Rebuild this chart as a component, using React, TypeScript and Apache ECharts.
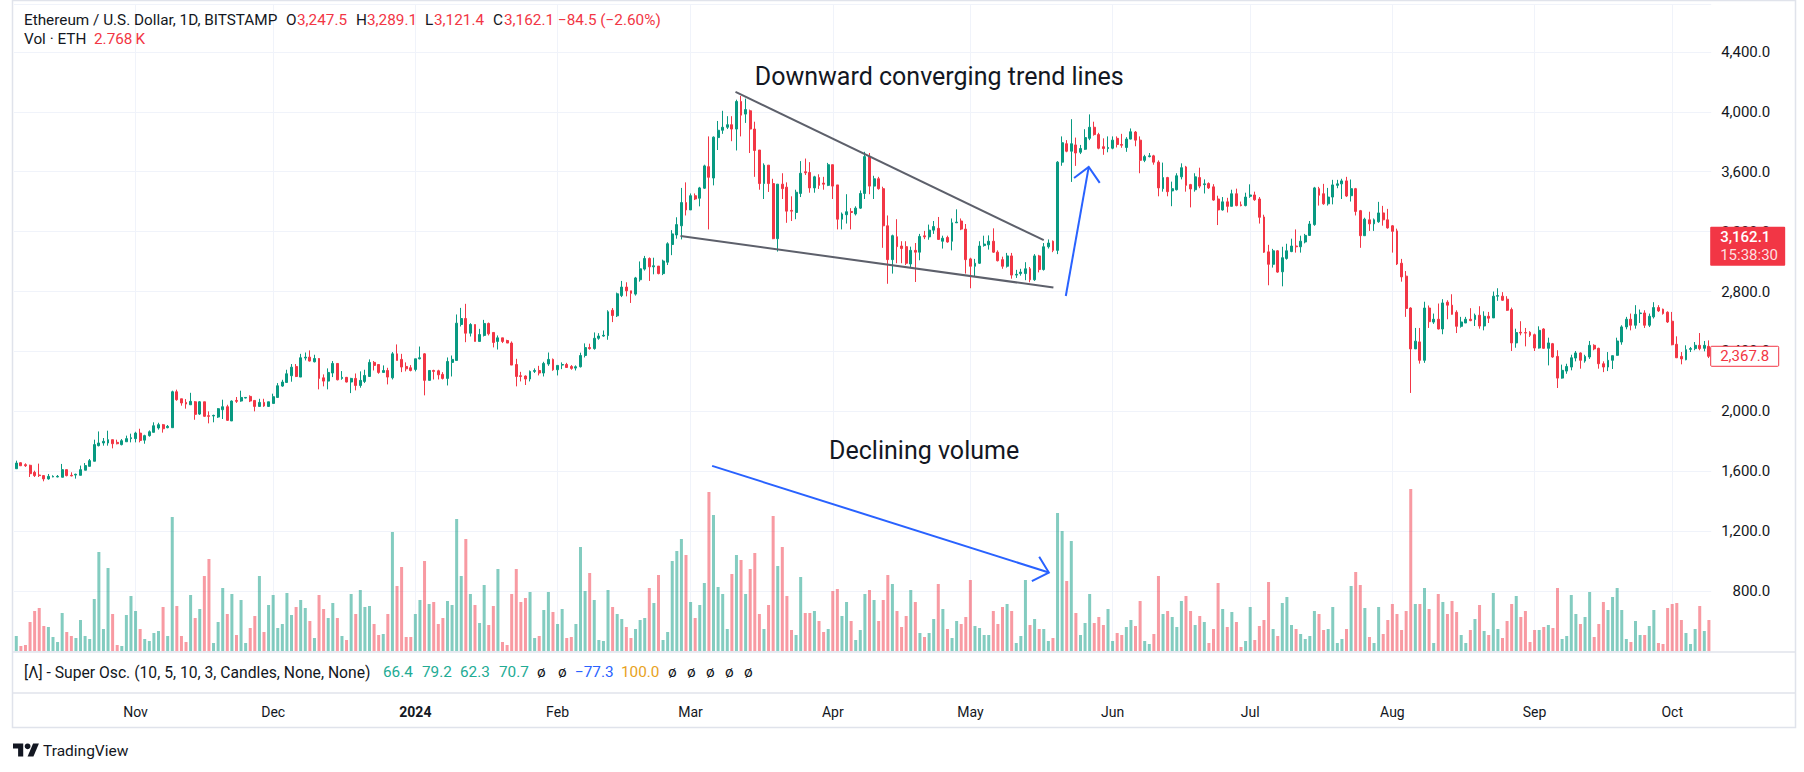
import React, { useEffect, useRef } from "react";
import * as echarts from "echarts";

// ---------- DATA (daily ETH/USD, BITSTAMP, 2023-10-06 .. 2024-10-09) ----------
const FIRST_DAY = "2023-10-06";

const opens = [
  1617,1657,1644,1640,1593,1575,1571,1549,1562,1562,
  1560,1611,1573,1575,1573,1607,1633,1667,1771,1789,
  1789,1811,1793,1778,1797,1818,1818,1855,1808,1838,
  1860,1889,1911,1891,1891,2131,2084,2060,2044,2064,
  1982,2064,1971,1969,1962,2011,2031,1936,2073,2069,
  2089,2100,2073,2033,2060,2033,2053,2093,2169,2193,
  2238,2300,2229,2356,2362,2331,2353,2224,2202,2256,
  2320,2220,2227,2196,2220,2173,2200,2233,2327,2313,
  2260,2273,2224,2384,2347,2300,2291,2280,2351,2384,
  2207,2273,2271,2247,2220,2327,2340,2580,2620,2522,
  2580,2467,2507,2587,2527,2467,2491,2473,2456,2313,
  2238,2236,2216,2267,2273,2256,2316,2347,2278,2309,
  2313,2300,2289,2298,2373,2426,2419,2488,2503,2506,
  2675,2638,2773,2830,2805,2783,2879,2950,3021,2965,
  2970,2920,2996,3114,3178,3239,3394,3345,3440,3423,
  3490,3634,3558,3828,3877,3897,3914,3885,4069,3985,
  4007,3885,3745,3521,3644,3521,3153,3517,3497,3342,
  3328,3455,3600,3595,3492,3561,3524,3509,3647,3512,
  3283,3313,3335,3318,3357,3455,3701,3504,3553,3487,
  3239,3013,3166,3104,3100,2984,3075,3063,3172,3165,
  3210,3222,3136,3161,3136,3259,3271,3217,3018,2969,
  2989,3107,3112,3136,3063,3013,2969,3038,2910,2920,
  2920,2952,2879,3038,2947,3099,3136,3075,3664,3787,
  3737,3779,3730,3750,3823,3897,3848,3767,3755,3757,
  3823,3782,3762,3818,3865,3811,3676,3701,3706,3664,
  3487,3561,3472,3480,3566,3632,3514,3480,3561,3514,
  3521,3499,3418,3345,3399,3369,3453,3379,3374,3436,
  3445,3418,3298,3065,2982,3072,2932,3021,3067,3104,
  3099,3131,3175,3247,3487,3453,3386,3431,3509,3519,
  3539,3440,3487,3340,3173,3279,3252,3266,3325,3279,
  3239,3205,2989,2903,2690,2417,2464,2341,2690,2596,
  2615,2550,2729,2709,2662,2568,2590,2615,2613,2642,
  2570,2635,2624,2769,2769,2749,2680,2457,2528,2526,
  2528,2512,2423,2550,2421,2452,2367,2222,2269,2296,
  2356,2390,2336,2363,2441,2421,2318,2296,2341,2374,
  2463,2564,2615,2575,2653,2657,2575,2631,2693,2682,
  2662,2602,2448,2367,2345,2414,2419,2441,2421,2434,
];

const highs = [
  1671,1660,1653,1644,1604,1651,1575,1582,1573,1575,
  1649,1611,1593,1584,1638,1655,1682,1811,1866,1822,
  1871,1811,1811,1815,1838,1851,1864,1884,1844,1873,
  1927,1924,1916,1909,2138,2145,2084,2082,2124,2069,
  2069,2064,2000,1978,2022,2078,2044,2073,2096,2138,
  2096,2107,2073,2084,2084,2064,2118,2189,2211,2278,
  2316,2316,2384,2393,2407,2378,2356,2247,2287,2336,
  2320,2269,2230,2224,2253,2267,2278,2347,2336,2313,
  2307,2291,2396,2447,2384,2327,2309,2351,2433,2389,
  2273,2278,2278,2262,2360,2373,2647,2691,2718,2589,
  2580,2551,2611,2593,2527,2507,2491,2478,2467,2351,
  2264,2240,2273,2287,2304,2331,2393,2353,2307,2327,
  2324,2309,2307,2392,2454,2452,2527,2522,2540,2675,
  2690,2793,2871,2862,2805,2898,3001,3038,3028,3026,
  2970,3013,3129,3210,3296,3492,3529,3455,3455,3499,
  3647,3836,3836,3939,4007,3971,3971,4081,4106,4088,
  4015,3934,3745,3656,3644,3553,3517,3590,3529,3436,
  3480,3671,3688,3664,3573,3583,3566,3659,3647,3512,
  3328,3450,3357,3369,3475,3733,3725,3573,3566,3500,
  3308,3180,3283,3136,3136,3100,3124,3185,3205,3247,
  3271,3298,3173,3173,3288,3349,3288,3251,3026,3018,
  3136,3173,3175,3222,3075,3033,3058,3058,2945,2952,
  2996,2964,3050,3045,3124,3148,3141,3671,3836,3811,
  3951,3828,3779,3884,3983,3934,3860,3823,3836,3836,
  3836,3853,3831,3889,3872,3836,3713,3725,3713,3676,
  3661,3566,3534,3590,3656,3639,3519,3590,3627,3549,
  3529,3517,3440,3431,3426,3480,3487,3401,3460,3516,
  3467,3431,3313,3112,3085,3077,3099,3119,3153,3215,
  3173,3185,3271,3499,3499,3519,3492,3546,3546,3553,
  3566,3548,3492,3345,3293,3333,3288,3399,3372,3352,
  3244,3220,3018,2937,2695,2557,2557,2732,2707,2653,
  2720,2749,2742,2782,2675,2631,2631,2689,2653,2702,
  2668,2664,2800,2822,2796,2769,2693,2552,2602,2557,
  2535,2519,2568,2555,2492,2457,2408,2312,2318,2378,
  2403,2394,2378,2470,2448,2425,2334,2396,2372,2492,
  2575,2631,2653,2709,2680,2675,2653,2729,2709,2686,
  2668,2664,2501,2396,2441,2430,2463,2523,2470,2474,
];

const lows = [
  1617,1635,1629,1562,1562,1562,1533,1544,1560,1560,
  1560,1566,1566,1551,1573,1607,1633,1667,1766,1771,
  1771,1753,1780,1773,1797,1793,1793,1793,1784,1831,
  1860,1878,1858,1887,1891,2071,2038,2018,2044,1944,
  1976,1964,1920,1927,1956,1949,1936,1936,2056,2064,
  2087,2062,2000,2033,2030,2030,2053,2093,2164,2193,
  2198,2229,2229,2340,2333,2327,2147,2167,2147,2229,
  2207,2211,2193,2122,2140,2158,2189,2233,2273,2251,
  2260,2180,2213,2340,2262,2267,2267,2267,2347,2107,
  2207,2213,2213,2213,2173,2233,2340,2567,2462,2500,
  2467,2467,2500,2507,2427,2413,2456,2456,2309,2167,
  2200,2176,2200,2256,2240,2233,2304,2271,2240,2282,
  2293,2278,2273,2293,2360,2412,2412,2478,2498,2478,
  2596,2630,2763,2768,2724,2773,2866,2940,2871,2915,
  2915,2910,2977,3043,3153,3148,3308,3345,3411,3369,
  3485,3215,3509,3745,3853,3885,3804,3742,3836,3926,
  3725,3566,3480,3418,3465,3150,3067,3418,3259,3271,
  3283,3431,3578,3460,3460,3485,3480,3504,3418,3215,
  3215,3254,3215,3308,3352,3418,3450,3418,3480,3092,
  2852,2920,2989,2989,2977,2964,2864,3009,3150,3146,
  3185,3146,3087,3126,3075,3259,3210,2920,2822,2898,
  2984,3100,3080,3058,3001,2952,2960,2886,2891,2906,
  2876,2862,2871,2928,2940,3087,3063,3050,3640,3730,
  3532,3639,3718,3745,3811,3841,3750,3713,3730,3750,
  3762,3760,3733,3816,3770,3590,3664,3696,3647,3436,
  3467,3436,3370,3475,3549,3467,3362,3467,3490,3455,
  3485,3406,3244,3340,3328,3369,3369,3369,3369,3426,
  3406,3254,3058,2842,2960,2925,2835,3013,3063,3060,
  3060,3122,3171,3239,3374,3379,3374,3382,3490,3418,
  3431,3401,3308,3092,3173,3205,3205,3259,3240,3220,
  3060,2977,2866,2631,2123,2417,2319,2324,2557,2584,
  2547,2515,2615,2646,2523,2559,2590,2602,2570,2552,
  2541,2590,2624,2738,2738,2671,2403,2425,2508,2434,
  2497,2403,2419,2417,2307,2358,2156,2218,2251,2274,
  2334,2285,2325,2350,2408,2285,2262,2269,2283,2372,
  2445,2548,2541,2552,2590,2557,2563,2620,2664,2646,
  2590,2441,2356,2314,2341,2396,2408,2408,2401,2356,
];

const closes = [
  1655,1637,1637,1584,1571,1571,1549,1566,1566,1566,
  1611,1571,1569,1580,1611,1638,1671,1778,1789,1800,
  1811,1784,1784,1804,1818,1824,1855,1806,1838,1864,
  1904,1911,1884,1900,2131,2078,2056,2049,2067,1980,
  2064,1967,1967,1973,2018,2031,1940,2069,2067,2093,
  2093,2069,2033,2060,2036,2064,2098,2171,2196,2251,
  2295,2233,2358,2362,2336,2353,2220,2202,2260,2320,
  2211,2227,2196,2220,2173,2207,2240,2327,2307,2260,
  2273,2229,2384,2340,2296,2284,2273,2351,2358,2207,
  2273,2267,2244,2220,2333,2347,2589,2620,2522,2580,
  2467,2513,2587,2518,2460,2491,2467,2456,2309,2233,
  2233,2216,2267,2273,2256,2320,2347,2278,2307,2313,
  2293,2287,2298,2373,2426,2419,2488,2503,2508,2665,
  2640,2785,2830,2805,2788,2891,2952,3021,2965,2972,
  2920,3004,3119,3185,3247,3394,3345,3440,3418,3492,
  3639,3563,3831,3877,3897,3914,3885,4069,3978,4015,
  3885,3742,3521,3644,3521,3153,3517,3487,3337,3337,
  3463,3590,3593,3492,3566,3509,3517,3647,3504,3283,
  3318,3333,3328,3357,3455,3701,3504,3553,3487,3239,
  3013,3173,3100,3087,2989,3075,3063,3168,3165,3210,
  3234,3148,3156,3131,3259,3264,3217,3013,2969,2989,
  3104,3117,3136,3063,3006,2969,3038,2910,2915,2930,
  2952,2879,3038,2947,3099,3124,3075,3664,3794,3737,
  3787,3725,3755,3828,3897,3848,3757,3755,3762,3811,
  3782,3777,3818,3867,3811,3676,3701,3706,3664,3492,
  3561,3467,3487,3573,3627,3509,3485,3566,3504,3519,
  3492,3411,3345,3399,3369,3453,3374,3374,3431,3445,
  3413,3296,3063,2982,3072,2930,3026,3072,3104,3099,
  3136,3175,3251,3492,3443,3386,3431,3512,3519,3539,
  3438,3487,3335,3173,3283,3252,3279,3325,3279,3225,
  3202,2984,2898,2687,2417,2469,2341,2690,2599,2615,
  2550,2724,2709,2648,2568,2597,2615,2606,2642,2570,
  2635,2622,2769,2773,2742,2675,2457,2526,2523,2523,
  2508,2423,2541,2421,2457,2363,2222,2274,2300,2358,
  2390,2341,2367,2441,2417,2318,2296,2341,2372,2470,
  2564,2615,2575,2648,2657,2575,2635,2693,2671,2653,
  2597,2445,2358,2350,2412,2419,2441,2419,2441,2367.8,
];

// volume (hundreds of ETH)
const volumes = [
  15,5,6,29,40,43,25,24,14,9,
  38,19,15,13,31,15,12,52,99,22,
  83,37,6,5,36,55,40,22,12,10,
  18,20,44,15,134,45,15,9,56,33,
  42,75,92,8,29,63,37,57,16,51,
  8,23,35,75,19,46,56,23,27,58,
  36,44,51,43,30,13,56,42,33,48,
  33,15,11,57,37,61,44,45,27,16,
  17,37,119,65,84,14,14,37,51,90,
  47,49,27,33,50,46,132,75,112,57,
  46,28,66,26,45,82,9,6,57,82,
  49,53,59,13,15,41,59,39,27,42,
  13,14,27,104,60,78,51,11,10,61,
  44,37,32,24,13,22,31,33,63,48,
  76,11,19,90,100,112,96,49,33,46,
  68,159,136,64,57,22,77,96,91,57,
  82,98,37,22,46,135,85,104,55,21,
  16,74,38,38,40,30,19,22,60,62,
  35,49,30,11,21,57,61,51,30,51,
  76,67,40,24,35,61,49,18,14,18,
  32,67,42,22,13,30,27,34,71,25,
  23,16,16,40,27,44,47,40,8,15,
  71,26,32,22,22,10,13,138,120,70,
  110,38,16,28,57,28,34,26,42,10,
  18,16,24,31,25,50,10,7,17,75,
  37,40,34,24,50,55,40,26,35,29,
  8,22,68,42,24,39,29,4,10,44,
  11,25,31,69,22,15,48,54,26,22,
  17,12,15,40,37,21,22,44,8,12,
  22,65,79,66,43,14,8,44,17,31,
  47,37,21,40,162,47,47,63,42,8,
  57,49,37,50,39,16,8,21,32,46,
  20,16,58,22,13,30,47,55,34,40,
  9,21,21,24,26,23,63,12,15,56,
  37,27,34,59,14,27,49,41,54,63,
  41,12,9,30,16,16,25,41,8,7,
  43,47,48,31,18,7,22,45,20,31,
];

const priceTicks = [800, 1200, 1600, 2000, 2400, 2800, 3200, 3600, 4000, 4400];
const monthNames = ["Jan", "Feb", "Mar", "Apr", "May", "Jun", "Jul", "Aug", "Sep", "Oct", "Nov", "Dec"];

// drawings anchored on (bar index, price)
const trendLines = [
  [[156.8, 4133], [224.0, 3143]],
  [[144.8, 3171], [226.1, 2827]],
];
const arrows = [
  { tail: [228.8, 2770], tip: [233.8, 3632], armA: [230.6, 3558], armB: [236.2, 3526] },
  { tail: [151.7, 1636], tip: [225.1, 924], armA: [223.0, 1030], armB: [221.4, 867] },
];
const notes = [
  { text: "Downward converging trend lines", at: [161.0, 4234] },
  { text: "Declining volume", at: [177.2, 1736] },
];

const headerLine1 = [
  { t: "Ethereum / U.S. Dollar, 1D, BITSTAMP", x: 24, c: "ink" },
  { t: "O", x: 286, c: "ink" }, { t: "3,247.5", x: 297, c: "red" },
  { t: "H", x: 356, c: "ink" }, { t: "3,289.1", x: 367, c: "red" },
  { t: "L", x: 425, c: "ink" }, { t: "3,121.4", x: 434, c: "red" },
  { t: "C", x: 493, c: "ink" }, { t: "3,162.1", x: 504, c: "red" },
  { t: "\u221284.5 (\u22122.60%)", x: 558, c: "red" },
];
const headerLine2 = [
  { t: "Vol \u00b7 ETH", x: 24, c: "ink" },
  { t: "2.768\u2009K", x: 94, c: "red" },
];
const oscLine = [
  { t: "[\u039b] - Super Osc. (10, 5, 10, 3, Candles, None, None)", x: 24, c: "ink" },
  { t: "66.4", x: 383, c: "teal" }, { t: "79.2", x: 422, c: "teal" },
  { t: "62.3", x: 460, c: "teal" }, { t: "70.7", x: 499, c: "teal" },
  { t: "\u00f8", x: 537, c: "ink" }, { t: "\u00f8", x: 558, c: "ink" },
  { t: "\u221277.3", x: 575, c: "blue" }, { t: "100.0", x: 621, c: "gold" },
  { t: "\u00f8", x: 668, c: "ink" }, { t: "\u00f8", x: 687, c: "ink" },
  { t: "\u00f8", x: 706, c: "ink" }, { t: "\u00f8", x: 725, c: "ink" },
  { t: "\u00f8", x: 744, c: "ink" },
];
const lastPrice = 2367.8;
const legendClose = 3162.1;

// ---------- STYLE ----------
const FONT = "Roboto, 'Noto Sans', sans-serif";
const INK = "#131722";
const UP = "#089981";
const DN = "#f23645";
const VOL_UP = "rgba(8,153,129,0.5)";
const VOL_DN = "rgba(242,54,69,0.5)";
const GRID_C = "#f0f3fa";
const BORDER = "#e0e3eb";
const PALETTE: Record<string, string> = { ink: INK, red: DN, teal: "#22ab94", blue: "#2962ff", gold: "#e8a21c" };

const GRID_LEFT = 14;
const BAR_STEP = 4.587;
const PRICE_TOP = 4;
const PRICE_H = 647;
const PRICE_MIN = 400;
const PRICE_MAX = 4720;

const dates: string[] = (() => {
  const t0 = Date.parse(FIRST_DAY + "T00:00:00Z");
  return closes.map((_, i) => new Date(t0 + i * 86400000).toISOString().slice(0, 10));
})();
const isMonthStart = dates.map((d) => d.slice(8, 10) === "01");

const fmtPrice = (v: number) =>
  v.toLocaleString("en-US", { minimumFractionDigits: 1, maximumFractionDigits: 1 });

function buildOption() {
  const gridW = BAR_STEP * closes.length;
  return {
    animation: false,
    backgroundColor: "#ffffff",
    textStyle: { fontFamily: FONT },
    grid: [
      { left: GRID_LEFT, top: PRICE_TOP, width: gridW, height: PRICE_H },
      { left: GRID_LEFT, top: 401, width: gridW, height: 250 },
    ],
    xAxis: [
      {
        type: "category",
        gridIndex: 0,
        data: dates,
        boundaryGap: true,
        axisLine: { show: false },
        axisTick: { show: false },
        axisLabel: {
          interval: (i: number) => isMonthStart[i],
          margin: 54,
          color: INK,
          fontSize: 14,
          fontFamily: FONT,
          formatter: (v: string) => {
            const m = parseInt(v.slice(5, 7), 10) - 1;
            return m === 0 ? "{y|" + v.slice(0, 4) + "}" : monthNames[m];
          },
          rich: { y: { fontWeight: "bold", fontSize: 14, color: INK, fontFamily: FONT } },
        },
        splitLine: {
          show: true,
          interval: (i: number) => isMonthStart[i],
          alignWithLabel: true,
          lineStyle: { color: GRID_C, width: 1 },
        },
      },
      { type: "category", gridIndex: 1, data: dates, show: false, boundaryGap: true },
    ],
    yAxis: [
      {
        type: "value",
        gridIndex: 0,
        position: "right",
        min: PRICE_MIN,
        max: PRICE_MAX,
        interval: 400,
        axisLine: { show: false },
        axisTick: { show: false },
        axisLabel: {
          margin: 59,
          align: "right",
          color: INK,
          fontSize: 15,
          fontFamily: FONT,
          formatter: (v: number) => (priceTicks.indexOf(v) >= 0 ? fmtPrice(v) : ""),
        },
        splitLine: { show: true, lineStyle: { color: GRID_C, width: 1 } },
      },
      { type: "value", gridIndex: 1, min: 0, max: 250, show: false, splitLine: { show: false } },
    ],
    series: [
      {
        type: "bar",
        xAxisIndex: 1,
        yAxisIndex: 1,
        barWidth: 3,
        silent: true,
        data: volumes.map((v, i) => ({
          value: v,
          itemStyle: { color: closes[i] >= opens[i] ? VOL_UP : VOL_DN },
        })),
      },
      {
        type: "candlestick",
        xAxisIndex: 0,
        yAxisIndex: 0,
        barWidth: 2.4,
        silent: true,
        data: opens.map((o, i) => [o, closes[i], lows[i], highs[i]]),
        itemStyle: { color: UP, color0: DN, borderColor: UP, borderColor0: DN, borderWidth: 1 },
      },
    ],
  };
}

function buildGraphics(chart: any) {
  const toPx = (idx: number, price: number): [number, number] => {
    const i0 = Math.floor(idx);
    const f = idx - i0;
    const a = chart.convertToPixel({ gridIndex: 0 }, [i0, price]) as number[];
    const b = chart.convertToPixel({ gridIndex: 0 }, [i0 + 1, price]) as number[];
    return [a[0] + (b[0] - a[0]) * f, a[1]];
  };
  const plotRight = GRID_LEFT + BAR_STEP * closes.length;
  const g: any[] = [];
  const txt = (t: string, x: number, y: number, color: string, size: number, extra: any = {}) => ({
    type: "text",
    x,
    y,
    silent: true,
    z: 120,
    style: { text: t, fill: color, fontSize: size, fontFamily: FONT, verticalAlign: "middle", ...extra },
  });

  // frame & pane separators
  g.push({ type: "rect", silent: true, z: 110, shape: { x: 12.5, y: 0.5, width: 1783, height: 727 }, style: { fill: "none", stroke: BORDER, lineWidth: 1.5 } });
  g.push({ type: "line", silent: true, z: 110, shape: { x1: 12, y1: 652, x2: 1796, y2: 652 }, style: { stroke: BORDER, lineWidth: 1.5 } });
  g.push({ type: "line", silent: true, z: 110, shape: { x1: 12, y1: 693, x2: 1796, y2: 693 }, style: { stroke: BORDER, lineWidth: 1.5 } });

  // legend rows
  headerLine1.forEach((p) => g.push(txt(p.t, p.x, 20, PALETTE[p.c], 15.3)));
  headerLine2.forEach((p) => g.push(txt(p.t, p.x, 39, PALETTE[p.c], 15.3)));
  oscLine.forEach((p) => g.push(txt(p.t, p.x, 672, PALETTE[p.c], p.x === 24 ? 15.7 : 15.3)));

  // trend lines
  trendLines.forEach(([a, b]) => {
    const p1 = toPx(a[0], a[1]);
    const p2 = toPx(b[0], b[1]);
    g.push({ type: "line", silent: true, z: 115, shape: { x1: p1[0], y1: p1[1], x2: p2[0], y2: p2[1] }, style: { stroke: "#5d606b", lineWidth: 2 } });
  });
  // arrows
  arrows.forEach((ar) => {
    const t = toPx(ar.tail[0], ar.tail[1]);
    const h = toPx(ar.tip[0], ar.tip[1]);
    const a = toPx(ar.armA[0], ar.armA[1]);
    const b = toPx(ar.armB[0], ar.armB[1]);
    g.push({ type: "line", silent: true, z: 115, shape: { x1: t[0], y1: t[1], x2: h[0], y2: h[1] }, style: { stroke: "#2962ff", lineWidth: 2 } });
    g.push({ type: "polyline", silent: true, z: 115, shape: { points: [a, h, b] }, style: { stroke: "#2962ff", lineWidth: 2, fill: null } });
  });
  // notes
  notes.forEach((n) => {
    const p = toPx(n.at[0], n.at[1]);
    g.push(txt(n.text, p[0], p[1], INK, 25));
  });

  // price scale labels
  const yC = toPx(0, legendClose)[1];
  g.push({ type: "rect", silent: true, z: 118, shape: { x: plotRight - 1, y: yC - 10.5, width: 75, height: 39, r: 1 }, style: { fill: DN } });
  g.push(txt(fmtPrice(legendClose), plotRight + 9, yC, "#ffffff", 15, { fontWeight: 500 }));
  g.push(txt("15:38:30", plotRight + 9, yC + 18, "rgba(255,255,255,0.85)", 15));
  const yL = toPx(0, lastPrice)[1];
  g.push({ type: "rect", silent: true, z: 118, shape: { x: plotRight - 0.5, y: yL - 10, width: 68, height: 20, r: 1 }, style: { fill: "#ffffff", stroke: DN, lineWidth: 1 } });
  g.push(txt(fmtPrice(lastPrice), plotRight + 9, yL, DN, 15));

  // TradingView logo
  const s = 0.73, ox = 13, oy = 740.5;
  const P = (pts: number[][]) => pts.map(([x, y]) => [ox + x * s, oy + y * s]);
  g.push({ type: "polygon", silent: true, z: 120, shape: { points: P([[14, 22], [7, 22], [7, 11], [0, 11], [0, 4], [14, 4]]) }, style: { fill: INK } });
  g.push({ type: "polygon", silent: true, z: 120, shape: { points: P([[28, 22], [20, 22], [27.5, 4], [35.5, 4]]) }, style: { fill: INK } });
  g.push({ type: "circle", silent: true, z: 120, shape: { cx: ox + 20 * s, cy: oy + 8 * s, r: 4 * s }, style: { fill: INK } });
  g.push(txt("TradingView", 43, 751, INK, 15.5));
  return g;
}

export default function App() {
  const ref = useRef<HTMLDivElement>(null);
  useEffect(() => {
    if (!ref.current) return;
    const chart = echarts.init(ref.current, undefined, { renderer: "svg" });
    chart.setOption(buildOption() as any);
    chart.setOption({ graphic: buildGraphics(chart) } as any);
    return () => chart.dispose();
  }, []);
  return (
    <div
      ref={ref}
      style={{ position: "fixed", left: 0, top: 0, width: 1804, height: 772, background: "#ffffff" }}
    />
  );
}
